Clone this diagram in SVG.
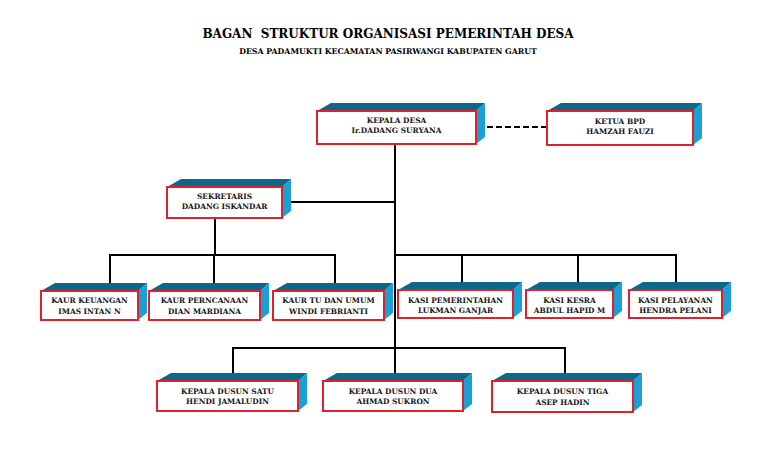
<svg xmlns="http://www.w3.org/2000/svg" width="772" height="466" viewBox="0 0 772 466">
<style>
.top{fill:#0c6789}
.side{fill:#1b9fd5}
.front{fill:#fff;stroke:#e0202a;stroke-width:2}
.t{font-family:"DejaVu Serif","Liberation Serif",serif;font-weight:bold;font-size:7.4px;text-anchor:middle;fill:#151515}
.title{font-family:"DejaVu Serif","Liberation Serif",serif;font-weight:bold;text-anchor:middle;fill:#000;white-space:pre}
.conn{stroke:#000;stroke-width:2;fill:none}
</style>
<rect width="772" height="466" fill="#fff"/>
<text class="title" x="388" y="38" font-size="12" xml:space="preserve">BAGAN  STRUKTUR ORGANISASI PEMERINTAH DESA</text>
<text class="title" x="388" y="53.5" font-size="7.8">DESA PADAMUKTI KECAMATAN PASIRWANGI KABUPATEN GARUT</text>

<g id="connectors">
<path class="conn" d="M395 144V373"/>
<path class="conn" d="M285 202H395"/>
<path class="conn" d="M487 127H547" stroke-dasharray="6,3"/>
<path class="conn" d="M215 218V255"/>
<path class="conn" d="M110 283V255H335V283M214 255V283"/>
<path class="conn" d="M395 255H676V282M462 255V282M578 255V282"/>
<path class="conn" d="M233 373V348H565V373"/>
</g>

<g id="kepala-desa">
<polygon class="top" points="317,111 331,103 485,103 476,111"/>
<polygon class="side" points="476,111 485,103 485,137 476,144"/>
<rect class="front" x="317" y="111" width="159" height="33"/>
<text class="t" x="396.5" y="122.5">KEPALA DESA</text>
<text class="t" x="396.5" y="132.5">Ir.DADANG SURYANA</text>
</g>

<g id="ketua-bpd">
<polygon class="top" points="547,111 561,103 702,103 693,111"/>
<polygon class="side" points="693,111 702,103 702,138 693,145"/>
<rect class="front" x="547" y="111" width="146" height="34"/>
<text class="t" x="620" y="124">KETUA BPD</text>
<text class="t" x="620" y="134">HAMZAH FAUZI</text>
</g>

<g id="sekretaris">
<polygon class="top" points="167,187 181,179 291,179 282,187"/>
<polygon class="side" points="282,187 291,179 291,211 282,218"/>
<rect class="front" x="167" y="187" width="115" height="31"/>
<text class="t" x="224.5" y="199">SEKRETARIS</text>
<text class="t" x="224.5" y="209">DADANG ISKANDAR</text>
</g>

<g id="kaur-keuangan">
<polygon class="top" points="41,291 55,283 147,283 138,291"/>
<polygon class="side" points="138,291 147,283 147,313 138,320"/>
<rect class="front" x="41" y="291" width="97" height="29"/>
<text class="t" x="89.5" y="303">KAUR KEUANGAN</text>
<text class="t" x="89.5" y="314">IMAS INTAN N</text>
</g>

<g id="kaur-perencanaan">
<polygon class="top" points="149,291 163,283 269,283 260,291"/>
<polygon class="side" points="260,291 269,283 269,313 260,320"/>
<rect class="front" x="149" y="291" width="111" height="29"/>
<text class="t" x="204.5" y="303">KAUR PERNCANAAN</text>
<text class="t" x="204.5" y="314">DIAN MARDIANA</text>
</g>

<g id="kaur-tu">
<polygon class="top" points="273,291 287,283 393,283 384,291"/>
<polygon class="side" points="384,291 393,283 393,313 384,320"/>
<rect class="front" x="273" y="291" width="111" height="29"/>
<text class="t" x="328.5" y="303">KAUR TU DAN UMUM</text>
<text class="t" x="328.5" y="314">WINDI FEBRIANTI</text>
</g>

<g id="kasi-pemerintahan">
<polygon class="top" points="398,290 412,282 522,282 513,290"/>
<polygon class="side" points="513,290 522,282 522,311 513,318"/>
<rect class="front" x="398" y="290" width="115" height="28"/>
<text class="t" x="455.5" y="303">KASI PEMERINTAHAN</text>
<text class="t" x="455.5" y="313">LUKMAN GANJAR</text>
</g>

<g id="kasi-kesra">
<polygon class="top" points="526,290 540,282 622,282 613,290"/>
<polygon class="side" points="613,290 622,282 622,311 613,318"/>
<rect class="front" x="526" y="290" width="87" height="28"/>
<text class="t" x="569.5" y="303">KASI KESRA</text>
<text class="t" x="569.5" y="313">ABDUL HAPID M</text>
</g>

<g id="kasi-pelayanan">
<polygon class="top" points="629,290 643,282 731,282 722,290"/>
<polygon class="side" points="722,290 731,282 731,311 722,318"/>
<rect class="front" x="629" y="290" width="93" height="28"/>
<text class="t" x="675.5" y="303">KASI PELAYANAN</text>
<text class="t" x="675.5" y="313">HENDRA PELANI</text>
</g>

<g id="kepala-dusun-satu">
<polygon class="top" points="157,381 171,373 307,373 298,381"/>
<polygon class="side" points="298,381 307,373 307,404 298,411"/>
<rect class="front" x="157" y="381" width="141" height="30"/>
<text class="t" x="227.5" y="393.5">KEPALA DUSUN SATU</text>
<text class="t" x="227.5" y="404">HENDI JAMALUDIN</text>
</g>

<g id="kepala-dusun-dua">
<polygon class="top" points="323,381 337,373 472,373 463,381"/>
<polygon class="side" points="463,381 472,373 472,404 463,411"/>
<rect class="front" x="323" y="381" width="140" height="30"/>
<text class="t" x="393" y="393.5">KEPALA DUSUN DUA</text>
<text class="t" x="393" y="404">AHMAD SUKRON</text>
</g>

<g id="kepala-dusun-tiga">
<polygon class="top" points="492,381 506,373 642,373 633,381"/>
<polygon class="side" points="633,381 642,373 642,405 633,412"/>
<rect class="front" x="492" y="381" width="141" height="31"/>
<text class="t" x="562.5" y="394">KEPALA DUSUN TIGA</text>
<text class="t" x="562.5" y="404.5">ASEP HADIN</text>
</g>
</svg>
